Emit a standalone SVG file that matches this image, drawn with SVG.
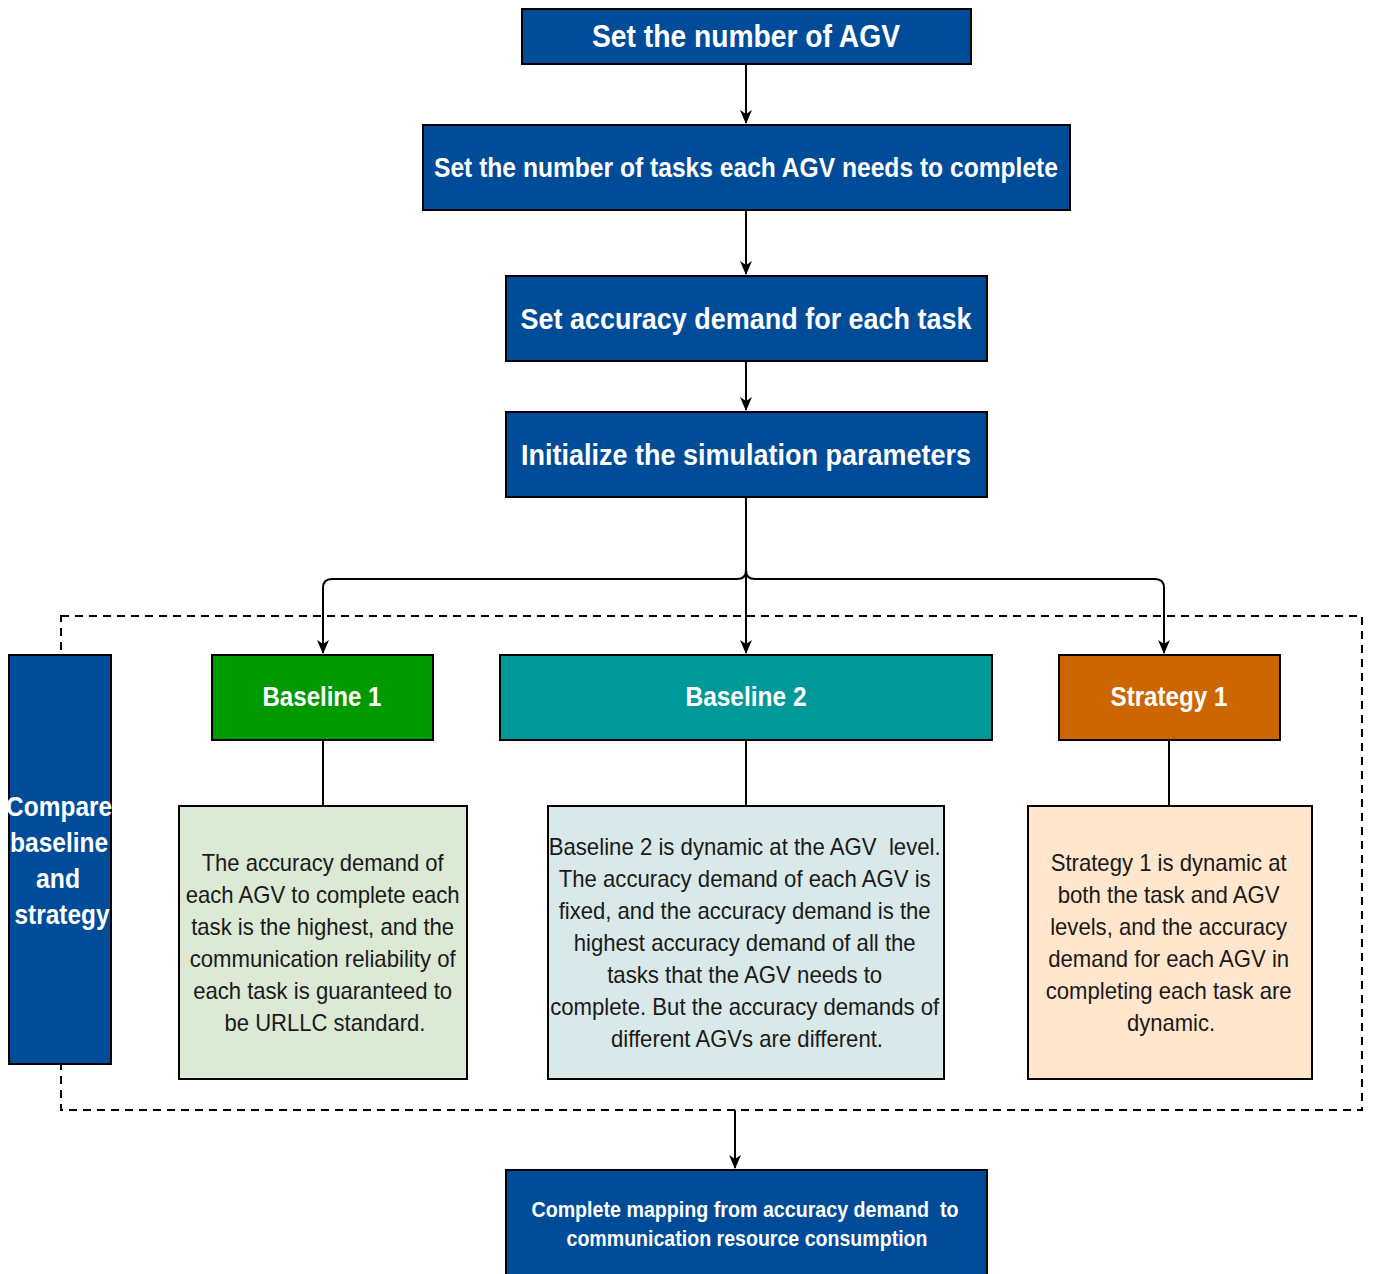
<svg xmlns="http://www.w3.org/2000/svg" width="1373" height="1274" viewBox="0 0 1373 1274">
  <style>
    .box { stroke: #000; stroke-width: 2; }
    .blue { fill: #004C99; }
    .head { font-family: "Liberation Sans Narrow", "Liberation Sans", Arial, sans-serif; font-weight: bold; fill: #fff; text-anchor: middle; }
    .desc { font-family: "Liberation Sans Narrow", "Liberation Sans", Arial, sans-serif; fill: #1a1a1a; text-anchor: middle; font-size: 24px; }
    .wire { fill: none; stroke: #000; stroke-width: 2; }
  </style>
  <defs>
    <marker id="arrow" viewBox="0 0 14 12" refX="13" refY="6" markerWidth="14" markerHeight="12" markerUnits="userSpaceOnUse" orient="auto">
      <path d="M0,0 L14,6 L0,12 L4,6 z" fill="#000"/>
    </marker>
  </defs>
  <rect width="1373" height="1274" fill="#fff"/>

  <!-- dashed comparison frame -->
  <rect x="61" y="616" width="1301" height="494" fill="none" stroke="#000" stroke-width="2" stroke-dasharray="8,6"/>

  <!-- connectors -->
  <g id="connectors">
    <path class="wire" d="M746,64 L746,123" marker-end="url(#arrow)"/>
    <path class="wire" d="M746,210 L746,274" marker-end="url(#arrow)"/>
    <path class="wire" d="M746,361 L746,410" marker-end="url(#arrow)"/>
    <path class="wire" d="M746,497 L746,653" marker-end="url(#arrow)"/>
    <path class="wire" d="M746,497 L746,570 Q746,579 737,579 L332,579 Q323,579 323,588 L323,653" marker-end="url(#arrow)"/>
    <path class="wire" d="M746,497 L746,570 Q746,579 755,579 L1155,579 Q1164,579 1164,588 L1164,653" marker-end="url(#arrow)"/>
    <path class="wire" d="M323,740 L323,806"/>
    <path class="wire" d="M746,740 L746,806"/>
    <path class="wire" d="M1169,740 L1169,806"/>
    <path class="wire" d="M735,1110 L735,1168" marker-end="url(#arrow)"/>
  </g>

  <g id="set-agv">
    <rect class="box blue" x="522" y="9" width="449" height="55"/>
    <text class="head" x="746" y="47" font-size="32" textLength="308" lengthAdjust="spacingAndGlyphs">Set the number of AGV</text>
  </g>

  <g id="set-tasks">
    <rect class="box blue" x="423" y="125" width="647" height="85"/>
    <text class="head" x="746" y="177" font-size="28" textLength="624" lengthAdjust="spacingAndGlyphs">Set the number of tasks each AGV needs to complete</text>
  </g>

  <g id="set-accuracy">
    <rect class="box blue" x="506" y="276" width="481" height="85"/>
    <text class="head" x="746" y="329" font-size="30" textLength="451" lengthAdjust="spacingAndGlyphs">Set accuracy demand for each task</text>
  </g>

  <g id="init-params">
    <rect class="box blue" x="506" y="412" width="481" height="85"/>
    <text class="head" x="746" y="465" font-size="30" textLength="450" lengthAdjust="spacingAndGlyphs">Initialize the simulation parameters</text>
  </g>

  <g id="compare">
    <rect class="box blue" x="9" y="655" width="102" height="409"/>
    <text class="head" font-size="28">
      <tspan x="63" y="816" textLength="106" lengthAdjust="spacingAndGlyphs">Compare</tspan>
      <tspan x="63" y="852" textLength="98" lengthAdjust="spacingAndGlyphs">baseline</tspan>
      <tspan x="62" y="888" textLength="44" lengthAdjust="spacingAndGlyphs">and</tspan>
      <tspan x="62" y="924" textLength="95" lengthAdjust="spacingAndGlyphs">strategy</tspan>
    </text>
  </g>

  <g id="baseline-1">
    <rect class="box" x="212" y="655" width="221" height="85" fill="#009900"/>
    <text class="head" x="322" y="706" font-size="27" textLength="119" lengthAdjust="spacingAndGlyphs">Baseline 1</text>
  </g>

  <g id="baseline-2">
    <rect class="box" x="500" y="655" width="492" height="85" fill="#009999"/>
    <text class="head" x="746" y="706" font-size="27" textLength="121" lengthAdjust="spacingAndGlyphs">Baseline 2</text>
  </g>

  <g id="strategy-1">
    <rect class="box" x="1059" y="655" width="221" height="85" fill="#CC6600"/>
    <text class="head" x="1169" y="706" font-size="27" textLength="117" lengthAdjust="spacingAndGlyphs">Strategy 1</text>
  </g>

  <g id="baseline-1-desc">
    <rect class="box" x="179" y="806" width="288" height="273" fill="#DBE9D5"/>
    <text class="desc">
      <tspan x="326" y="871" textLength="242" lengthAdjust="spacingAndGlyphs">The accuracy demand of</tspan>
      <tspan x="326" y="903" textLength="274" lengthAdjust="spacingAndGlyphs">each AGV to complete each</tspan>
      <tspan x="326" y="935" textLength="263" lengthAdjust="spacingAndGlyphs">task is the highest, and the</tspan>
      <tspan x="326" y="967" textLength="266" lengthAdjust="spacingAndGlyphs">communication reliability of</tspan>
      <tspan x="326" y="999" textLength="259" lengthAdjust="spacingAndGlyphs">each task is guaranteed to</tspan>
      <tspan x="325" y="1031" textLength="201" lengthAdjust="spacingAndGlyphs">be URLLC standard.</tspan>
    </text>
  </g>

  <g id="baseline-2-desc">
    <rect class="box" x="548" y="806" width="396" height="273" fill="#D9E8E8"/>
    <text class="desc">
      <tspan x="748" y="855" textLength="392" lengthAdjust="spacingAndGlyphs">Baseline 2 is dynamic at the AGV &#160;level.</tspan>
      <tspan x="748" y="887" textLength="372" lengthAdjust="spacingAndGlyphs">The accuracy demand of each AGV is</tspan>
      <tspan x="748" y="919" textLength="372" lengthAdjust="spacingAndGlyphs">fixed, and the accuracy demand is the</tspan>
      <tspan x="748" y="951" textLength="342" lengthAdjust="spacingAndGlyphs">highest accuracy demand of all the</tspan>
      <tspan x="748" y="983" textLength="275" lengthAdjust="spacingAndGlyphs">tasks that the AGV needs to</tspan>
      <tspan x="748" y="1015" textLength="389" lengthAdjust="spacingAndGlyphs">complete. But the accuracy demands of</tspan>
      <tspan x="747" y="1047" textLength="272" lengthAdjust="spacingAndGlyphs">different AGVs are different.</tspan>
    </text>
  </g>

  <g id="strategy-1-desc">
    <rect class="box" x="1028" y="806" width="284" height="273" fill="#FFE6CC"/>
    <text class="desc">
      <tspan x="1172" y="871" textLength="236" lengthAdjust="spacingAndGlyphs">Strategy 1 is dynamic at</tspan>
      <tspan x="1172" y="903" textLength="222" lengthAdjust="spacingAndGlyphs">both the task and AGV</tspan>
      <tspan x="1172" y="935" textLength="237" lengthAdjust="spacingAndGlyphs">levels, and the accuracy</tspan>
      <tspan x="1172" y="967" textLength="241" lengthAdjust="spacingAndGlyphs">demand for each AGV in</tspan>
      <tspan x="1172" y="999" textLength="246" lengthAdjust="spacingAndGlyphs">completing each task are</tspan>
      <tspan x="1171" y="1031" textLength="88" lengthAdjust="spacingAndGlyphs">dynamic.</tspan>
    </text>
  </g>

  <g id="mapping">
    <rect class="box blue" x="506" y="1170" width="481" height="110"/>
    <text class="head" font-size="22">
      <tspan x="748" y="1217" textLength="427" lengthAdjust="spacingAndGlyphs">Complete mapping from accuracy demand &#160;to</tspan>
      <tspan x="747" y="1246" textLength="361" lengthAdjust="spacingAndGlyphs">communication resource consumption</tspan>
    </text>
  </g>
</svg>
